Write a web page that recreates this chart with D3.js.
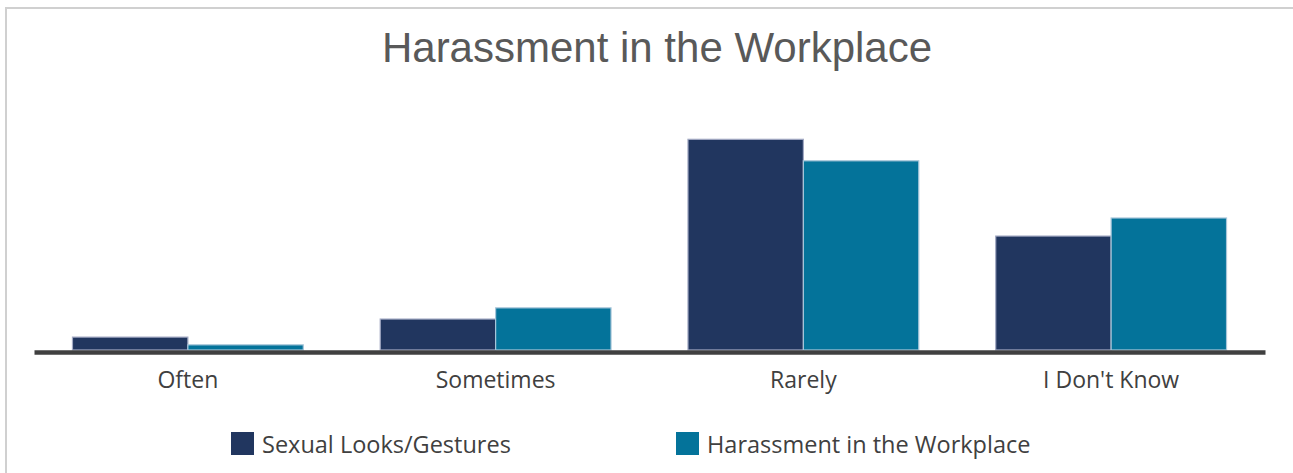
<!DOCTYPE html>
<html>
<head>
<meta charset="utf-8">
<script src="https://cdn.jsdelivr.net/npm/d3@7"></script>
<style>
  html, body { margin: 0; padding: 0; background: #fff; }
  svg { display: block; }
</style>
</head>
<body>
<div id="chart"></div>
<script>
// chart data
const categories = ['Often', 'Sometimes', 'Rarely', "I Don't Know"];
const seriesNames = ['Sexual Looks/Gestures', 'Harassment in the Workplace'];
const sexualLooks = [3, 7.2, 49, 26.5];
const workplace = [1.2, 9.8, 44, 30.7];
const colors = ['#21365f', '#04739a'];

function drawChart() {
    const W = 1293, H = 473;
    const svg = d3.select('#chart').append('svg')
        .attr('width', W)
        .attr('height', H);

    // light frame around the chart area
    svg.append('rect')
        .attr('x', 6).attr('y', 8)
        .attr('width', W + 20).attr('height', H + 20)
        .attr('fill', '#fff')
        .attr('stroke', '#d0d0d0')
        .attr('stroke-width', 2);

    svg.append('text')
        .attr('x', 657).attr('y', 62)
        .attr('text-anchor', 'middle')
        .attr('font-family', '"Liberation Sans", Arial, sans-serif')
        .attr('font-size', 42)
        .attr('fill', '#595959')
        .text('Harassment in the Workplace');

    const x0 = d3.scaleBand()
        .domain(categories)
        .range([34, 1265])
        .paddingInner(0.25)
        .paddingOuter(0.125);

    const x1 = d3.scaleBand()
        .domain(seriesNames)
        .range([0, x0.bandwidth()]);

    const y = d3.scaleLinear()
        .domain([0, 50])
        .range([350, 135]);

    const rows = categories.map((c, i) => ({
        cat: c,
        vals: [sexualLooks[i], workplace[i]]
    }));

    const groups = svg.selectAll('.group')
        .data(rows)
        .enter().append('g')
        .attr('class', 'group')
        .attr('transform', d => `translate(${x0(d.cat)},0)`);

    groups.selectAll('rect')
        .data(d => d.vals.map((v, j) => ({ s: seriesNames[j], v: v, j: j })))
        .enter().append('rect')
        .attr('x', d => x1(d.s))
        .attr('y', d => y(d.v))
        .attr('width', x1.bandwidth())
        .attr('height', d => y(0) - y(d.v))
        .attr('fill', d => colors[d.j])
        .attr('stroke', d => d.j === 0 ? '#a3aac4' : '#a8c6da')
        .attr('stroke-width', 1.2);

    // x axis: thick baseline, no ticks
    const xAxis = svg.append('g')
        .attr('transform', `translate(0,${y(0) + 2})`)
        .call(d3.axisBottom(x0).tickSize(0).tickPadding(20));
    xAxis.select('.domain')
        .attr('stroke', '#404040')
        .attr('stroke-width', 4.5);
    xAxis.selectAll('text')
        .attr('font-family', '"Open Sans", sans-serif')
        .attr('font-size', 23)
        .attr('fill', '#404040');

    // legend
    const legendX = [231, 676];
    const legend = svg.selectAll('.legend')
        .data(seriesNames)
        .enter().append('g')
        .attr('class', 'legend')
        .attr('transform', (d, i) => `translate(${legendX[i]},432)`);
    legend.append('rect')
        .attr('width', 23).attr('height', 23)
        .attr('fill', (d, i) => colors[i]);
    legend.append('text')
        .attr('x', 31).attr('y', 21)
        .attr('font-family', '"Open Sans", sans-serif')
        .attr('font-size', 23.5)
        .attr('fill', '#404040')
        .text(d => d);
}

drawChart();
</script>
</body>
</html>
